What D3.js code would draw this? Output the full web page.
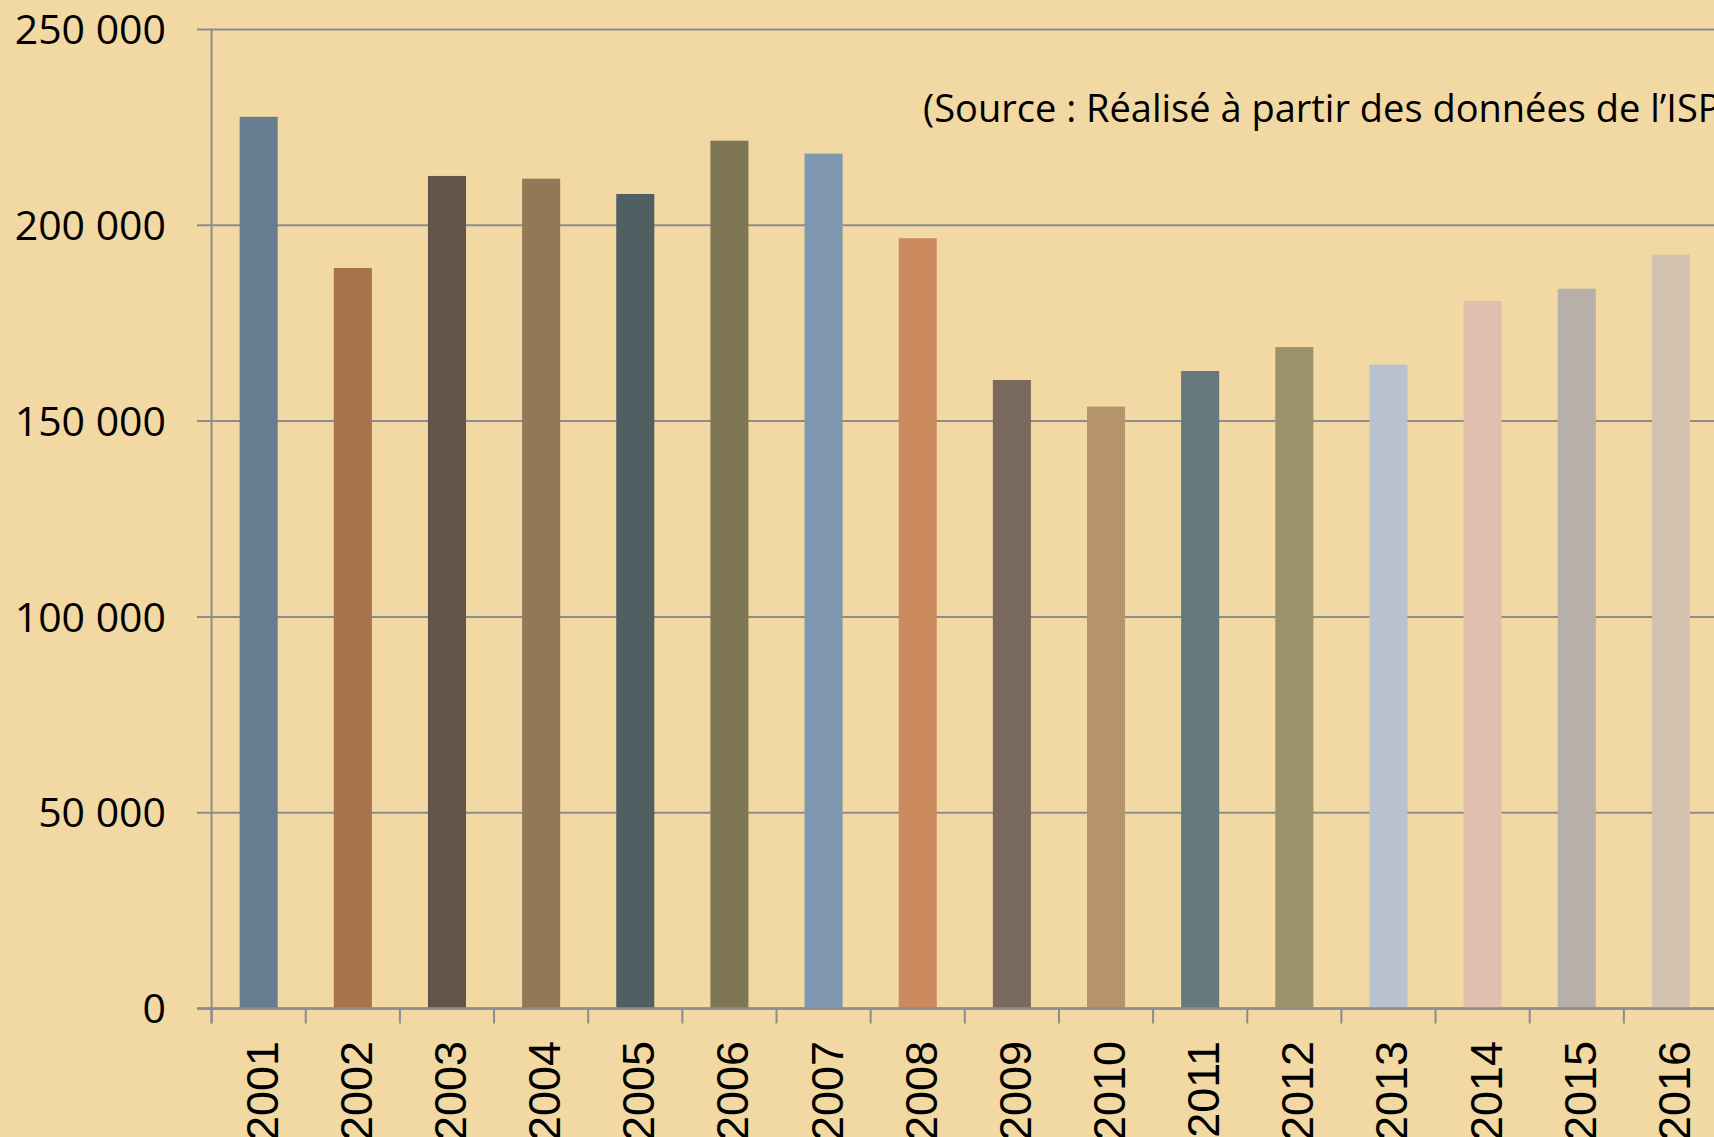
<!DOCTYPE html>
<html>
<head>
<meta charset="utf-8">
<script src="https://cdn.jsdelivr.net/npm/d3@7"></script>
<style>
	html, body { margin: 0; padding: 0; background: #F2D8A2; overflow: hidden; }
	svg { display: block; }
</style>
</head>
<body>
<div id="container"></div>
<script>
	const width = 1714,
	height = 1137;

	// data
	const years = ["2001","2002","2003","2004","2005","2006","2007","2008",
		"2009","2010","2011","2012","2013","2014","2015","2016"];
	const values = [227700, 189100, 212600, 211900, 208000, 221600, 218300, 196700,
		160500, 153700, 162800, 168900, 164400, 180700, 183800, 192500];
	const barColors = ["#687C91","#A6734D","#62534B","#937857","#505F62","#7F7656","#7F97B0","#CB8A5E",
		"#7A695E","#B5936C","#65787C","#9D916D","#B8C2CC","#E0BFAF","#B7AFA9","#D4C2B1"];
	const yTicks = [0, 50000, 100000, 150000, 200000, 250000];
	const sourceText = "(Source : Réalisé à partir des données de l’ISPF)";

	const axisColor = "#8C8C8C";

	var svg = d3.select("#container").append("svg")
		.attr("width", width).attr("height", height);

	svg.append("rect").attr("width", width).attr("height", height).attr("fill", "#F2D8A2");

	const x = d3.scaleBand().domain(years).range([211.6, 1718]).paddingInner(0.596).paddingOuter(0.298);
	const y = d3.scaleLinear().domain([0, 250000]).range([1008.5, 29.5]);

	const fmt = d3.formatLocale({decimal: ",", thousands: " ", grouping: [3], currency: ["", "€"]}).format(",d");

	/*** gridlines + y labels ***/
	svg.append("g").selectAll("line").data(yTicks).enter().append("line")
		.attr("x1", 197).attr("x2", width)
		.attr("y1", d => y(d)).attr("y2", d => y(d))
		.attr("stroke", axisColor).attr("stroke-width", 2);

	svg.append("g").selectAll("text").data(yTicks).enter().append("text")
		.attr("x", 166).attr("y", d => y(d)).attr("dy", "0.36em")
		.attr("text-anchor", "end")
		.attr("font-family", "'Open Sans', sans-serif").attr("font-size", 41)
		.attr("fill", "#000")
		.text(d => fmt(d));

	/*** bars ***/
	svg.append("g").selectAll("rect").data(years).enter().append("rect")
		.attr("x", d => x(d)).attr("width", x.bandwidth())
		.attr("y", (d, i) => y(values[i]))
		.attr("height", (d, i) => y(0) - y(values[i]))
		.attr("fill", (d, i) => barColors[i]);

	/*** axes ***/
	svg.append("line").attr("x1", x.range()[0]).attr("x2", x.range()[0])
		.attr("y1", y(250000)).attr("y2", y(0) + 15)
		.attr("stroke", axisColor).attr("stroke-width", 2);

	svg.append("line").attr("x1", 197).attr("x2", width)
		.attr("y1", y(0)).attr("y2", y(0))
		.attr("stroke", axisColor).attr("stroke-width", 2.5);

	svg.append("g").selectAll("line").data(years).enter().append("line")
		.attr("x1", d => x(d) - x.step() * x.paddingOuter()).attr("x2", d => x(d) - x.step() * x.paddingOuter())
		.attr("y1", y(0)).attr("y2", y(0) + 15)
		.attr("stroke", axisColor).attr("stroke-width", 2);

	svg.append("g").selectAll("text").data(years).enter().append("text")
		.attr("transform", d => "translate(" + (x(d) + x.bandwidth() / 2 + 19) + ",1041) rotate(-90)")
		.attr("text-anchor", "end")
		.attr("font-family", "'Liberation Sans', Arial, sans-serif").attr("font-size", 45)
		.attr("fill", "#000")
		.text(d => d);

	/*** source note ***/
	svg.append("text").attr("x", 923).attr("y", 122)
		.attr("font-family", "'Open Sans', sans-serif").attr("font-size", 38)
		.attr("fill", "#000")
		.text(sourceText);
</script>
</body>
</html>
